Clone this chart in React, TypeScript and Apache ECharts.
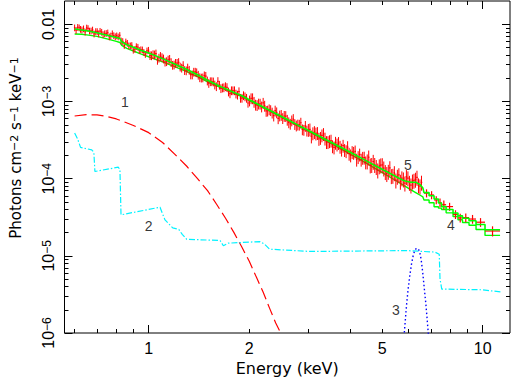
import React, { useEffect, useRef } from 'react';
import * as echarts from 'echarts';

// ---------- axis ticks / labels (keV, photons cm^-2 s^-1 keV^-1) ----------
const xTickMajor = [1, 10];
const xTickMinor = [0.6, 0.7, 0.8, 0.9, 2, 3, 4, 5, 6, 7, 8, 9];
const xTickLabels = [1, 2, 5, 10];
const yDecades = [1e-6, 1e-5, 1e-4, 1e-3, 1e-2];
const yMinorMult = [2, 3, 4, 5, 6, 7, 8, 9];
const xRange = [0.5595, 12.07];
const yRange = [1e-6, 0.0201];

// ---------- observed spectrum, dense bins (centre energy, flux) ----------
const dataEnergyA = [
  0.600, 0.613, 0.625, 0.638, 0.652, 0.665, 0.679, 0.694, 0.708, 0.723,
  0.738, 0.754, 0.770, 0.786, 0.802, 0.819, 0.836, 0.854, 0.872, 0.890,
  0.909, 0.928, 0.947, 0.967, 0.988, 1.009, 1.030, 1.051, 1.073, 1.096,
  1.119, 1.143, 1.167, 1.191, 1.216, 1.242, 1.268, 1.295, 1.322, 1.350,
  1.378, 1.407, 1.437, 1.467, 1.498, 1.529, 1.561, 1.594, 1.628, 1.662,
  1.697, 1.733, 1.769, 1.806, 1.844, 1.883, 1.922, 1.963, 2.004, 2.046,
  2.089, 2.133, 2.178, 2.224, 2.270, 2.318, 2.367, 2.416, 2.467, 2.519,
  2.572, 2.626, 2.681, 2.738, 2.795, 2.854, 2.914, 2.975, 3.038, 3.101,
  3.167, 3.233, 3.301, 3.371, 3.441, 3.514, 3.588, 3.663, 3.740, 3.819,
  3.899, 3.981, 4.065, 4.150, 4.237, 4.326, 4.417, 4.510, 4.605, 4.701,
  4.800, 4.901, 5.004, 5.109, 5.216, 5.326, 5.438, 5.552, 5.669, 5.788,
  5.909, 6.034, 6.161, 6.290, 6.422, 6.557,
];
const dataFluxA = [
  9.05e-3, 9.19e-3, 8.66e-3, 8.79e-3, 9.01e-3, 8.23e-3, 8.49e-3, 8.10e-3, 7.57e-3, 7.94e-3,
  7.60e-3, 7.79e-3, 7.11e-3, 7.17e-3, 7.13e-3, 7.22e-3, 6.02e-3, 5.94e-3, 5.28e-3, 5.35e-3,
  4.76e-3, 5.08e-3, 4.71e-3, 4.35e-3, 4.55e-3, 3.97e-3, 4.08e-3, 4.17e-3, 3.68e-3, 3.73e-3,
  3.27e-3, 3.48e-3, 3.22e-3, 3.00e-3, 3.15e-3, 2.82e-3, 2.95e-3, 2.52e-3, 2.56e-3, 2.23e-3,
  2.42e-3, 2.21e-3, 2.03e-3, 2.17e-3, 1.86e-3, 1.82e-3, 1.81e-3, 1.57e-3, 1.64e-3, 1.51e-3,
  1.57e-3, 1.34e-3, 1.39e-3, 1.39e-3, 1.22e-3, 1.11e-3, 1.20e-3, 1.11e-3, 1.03e-3, 1.10e-3,
  9.08e-4, 9.39e-4, 8.61e-4, 8.80e-4, 7.61e-4, 7.72e-4, 6.57e-4, 7.23e-4, 6.58e-4, 6.09e-4,
  6.47e-4, 5.37e-4, 5.68e-4, 5.10e-4, 5.02e-4, 5.31e-4, 4.29e-4, 4.19e-4, 4.36e-4, 3.89e-4,
  3.86e-4, 3.29e-4, 3.65e-4, 3.32e-4, 2.99e-4, 3.12e-4, 2.55e-4, 2.78e-4, 2.60e-4, 2.68e-4,
  2.28e-4, 2.11e-4, 2.22e-4, 2.26e-4, 1.91e-4, 1.77e-4, 1.88e-4, 1.69e-4, 1.50e-4, 1.67e-4,
  1.43e-4, 1.46e-4, 1.51e-4, 1.23e-4, 1.24e-4, 1.09e-4, 1.19e-4, 1.07e-4, 9.21e-5, 9.87e-5,
  1.06e-4, 8.92e-5, 9.27e-5, 9.79e-5, 8.27e-5, 8.96e-5,
];
// interleaved channels
const dataEnergyB = [
  0.606, 0.619, 0.631, 0.645, 0.658, 0.672, 0.686, 0.701, 0.715, 0.730,
  0.746, 0.762, 0.778, 0.794, 0.810, 0.827, 0.845, 0.863, 0.881, 0.899,
  0.918, 0.937, 0.957, 0.977, 0.998, 1.019, 1.040, 1.062, 1.084, 1.107,
  1.131, 1.155, 1.179, 1.203, 1.229, 1.255, 1.281, 1.308, 1.336, 1.364,
  1.392, 1.422, 1.452, 1.482, 1.513, 1.545, 1.577, 1.611, 1.645, 1.679,
  1.715, 1.751, 1.787, 1.825, 1.863, 1.902, 1.942, 1.983, 2.025, 2.067,
  2.111, 2.155, 2.201, 2.247, 2.294, 2.342, 2.391, 2.441, 2.493, 2.545,
  2.599, 2.653, 2.709, 2.766, 2.824, 2.884, 2.944, 3.006, 3.069, 3.134,
  3.200, 3.267, 3.336, 3.406, 3.477, 3.551, 3.625, 3.701, 3.779, 3.859,
  3.940, 4.023, 4.107, 4.193, 4.281, 4.371, 4.463, 4.557, 4.653, 4.750,
  4.850, 4.952, 5.056, 5.162, 5.271, 5.382, 5.495, 5.610, 5.728, 5.848,
  5.971, 6.097, 6.225, 6.356, 6.489,
];
const dataFluxB = [
  8.39e-3, 9.05e-3, 8.51e-3, 7.99e-3, 8.87e-3, 8.24e-3, 7.54e-3, 8.10e-3, 8.17e-3, 7.40e-3,
  7.66e-3, 6.91e-3, 7.59e-3, 6.95e-3, 6.91e-3, 6.12e-3, 5.35e-3, 5.71e-3, 5.29e-3, 4.65e-3,
  5.17e-3, 4.61e-3, 4.69e-3, 4.10e-3, 4.64e-3, 3.95e-3, 4.05e-3, 3.45e-3, 3.87e-3, 3.59e-3,
  3.31e-3, 3.55e-3, 2.97e-3, 3.15e-3, 3.23e-3, 2.73e-3, 2.54e-3, 2.74e-3, 2.23e-3, 2.42e-3,
  2.38e-3, 2.05e-3, 2.04e-3, 2.14e-3, 1.73e-3, 1.82e-3, 1.65e-3, 1.83e-3, 1.48e-3, 1.52e-3,
  1.53e-3, 1.27e-3, 1.39e-3, 1.26e-3, 1.35e-3, 1.11e-3, 1.16e-3, 9.57e-4, 1.10e-3, 9.89e-4,
  8.97e-4, 9.36e-4, 9.61e-4, 7.55e-4, 7.91e-4, 7.17e-4, 7.62e-4, 6.06e-4, 6.69e-4, 6.50e-4,
  5.79e-4, 5.14e-4, 5.92e-4, 4.88e-4, 5.00e-4, 4.35e-4, 4.82e-4, 4.30e-4, 3.54e-4, 4.03e-4,
  3.92e-4, 3.39e-4, 3.80e-4, 2.99e-4, 3.07e-4, 2.64e-4, 2.93e-4, 2.91e-4, 2.39e-4, 2.36e-4,
  2.57e-4, 2.01e-4, 2.17e-4, 1.77e-4, 2.06e-4, 1.87e-4, 1.63e-4, 1.90e-4, 1.52e-4, 1.52e-4,
  1.29e-4, 1.50e-4, 1.37e-4, 1.16e-4, 1.38e-4, 1.10e-4, 9.56e-5, 1.12e-4, 1.02e-4, 8.74e-5,
  1.02e-4, 8.24e-5, 9.49e-5, 1.04e-4, 8.02e-5,
];
// fractional error by energy band (upper band edge, fraction)
const errBandEdge = [1.0, 2.0, 3.0, 4.5, 7.0];
const errBandFrac = [0.10, 0.13, 0.16, 0.19, 0.22];

// ---------- observed spectrum, wide bins at high energy ----------
const binEdges = [6.67, 6.91, 7.15, 7.37, 7.53, 7.77, 8.15, 8.43, 8.70, 9.10, 9.55, 10.16, 11.27];
const binFlux = [6.5e-5, 6.15e-5, 5.3e-5, 4.9e-5, 4.6e-5, 4.35e-5, 3.45e-5, 3.1e-5, 3.13e-5, 3.0e-5, 2.73e-5, 2.1e-5];
const binErrFrac = [0.12, 0.12, 0.12, 0.13, 0.13, 0.12, 0.13, 0.13, 0.13, 0.13, 0.13, 0.15];
const binTotal = [6.6e-5, 6.0e-5, 5.45e-5, 4.85e-5, 4.35e-5, 3.98e-5, 3.6e-5, 3.3e-5, 3.07e-5, 2.85e-5, 2.55e-5, 2.18e-5];
const binPowerLaw = [5.3e-5, 4.87e-5, 4.33e-5, 4.15e-5, 3.98e-5, 3.61e-5, 3.24e-5, 2.94e-5, 2.71e-5, 2.49e-5, 2.2e-5, 1.84e-5];

// ---------- model, fine grid ----------
const modelEnergy = [
  0.60, 0.63, 0.66, 0.70, 0.75, 0.80, 0.82, 0.83, 0.86, 0.90,
  0.95, 1.00, 1.10, 1.20, 1.30, 1.40, 1.50, 1.65, 1.80, 1.90,
  2.00, 2.20, 2.40, 2.60, 2.80, 3.00, 3.30, 3.60, 4.00, 4.40,
  4.80, 5.20, 5.60, 5.80, 5.90, 6.10, 6.30, 6.50, 6.62,
];
const modelTotal = [
  8.7e-3, 8.45e-3, 8.2e-3, 7.8e-3, 7.25e-3, 6.75e-3, 6.55e-3, 5.95e-3, 5.45e-3, 5.05e-3,
  4.6e-3, 4.25e-3, 3.6e-3, 3.05e-3, 2.6e-3, 2.22e-3, 1.89e-3, 1.55e-3, 1.315e-3, 1.19e-3,
  1.054e-3, 8.51e-4, 7.0e-4, 5.84e-4, 4.95e-4, 4.25e-4, 3.42e-4, 2.81e-4, 2.22e-4, 1.78e-4,
  1.45e-4, 1.21e-4, 1.02e-4, 9.45e-5, 9.25e-5, 9.0e-5, 8.99e-5, 8.37e-5, 7.57e-5,
];
const modelPowerLaw = [
  7.5e-3, 7.45e-3, 7.25e-3, 7.0e-3, 6.48e-3, 6.02e-3, 5.83e-3, 5.35e-3, 4.89e-3, 4.52e-3,
  4.12e-3, 3.81e-3, 3.27e-3, 2.82e-3, 2.44e-3, 2.10e-3, 1.80e-3, 1.50e-3, 1.28e-3, 1.162e-3,
  1.03e-3, 8.33e-4, 6.87e-4, 5.72e-4, 4.83e-4, 4.14e-4, 3.31e-4, 2.70e-4, 2.10e-4, 1.66e-4,
  1.33e-4, 1.09e-4, 9.0e-5, 8.2e-5, 7.85e-5, 7.15e-5, 6.6e-5, 6.1e-5, 5.8e-5,
];

// component 1 (soft thermal)
const bbEnergy = [0.60, 0.65, 0.70, 0.75, 0.80, 0.90, 1.00, 1.10, 1.20, 1.30, 1.40, 1.50, 1.60, 1.70, 1.80, 1.90, 2.00, 2.10, 2.20, 2.30, 2.40, 2.47];
const bbFlux = [6.5e-4, 6.75e-4, 6.7e-4, 6.4e-4, 5.95e-4, 4.9e-4, 3.95e-4, 2.95e-4, 2.05e-4, 1.45e-4, 1.0e-4, 7.0e-5, 4.6e-5, 3.05e-5, 2.0e-5, 1.3e-5, 8.5e-6, 5.3e-6, 3.4e-6, 2.1e-6, 1.35e-6, 1.05e-6];

// component 2 (edge-structured)
const cyanEnergy = [0.600, 0.612, 0.625, 0.675, 0.685, 0.690, 0.811, 0.820, 0.826, 1.081, 1.100, 1.119, 1.180, 1.230, 1.260, 1.299, 1.635, 1.673, 1.730, 2.150, 2.220, 2.300, 3.040, 5.920, 7.190, 7.410, 7.450, 7.540, 10.00, 11.40];
const cyanFlux = [3.9e-4, 3.3e-4, 2.55e-4, 2.36e-4, 2.2e-4, 1.24e-4, 1.41e-4, 1.3e-4, 3.4e-5, 4.27e-5, 3.5e-5, 2.92e-5, 2.3e-5, 2.2e-5, 1.9e-5, 1.64e-5, 1.58e-5, 1.35e-5, 1.46e-5, 1.53e-5, 1.42e-5, 1.22e-5, 1.14e-5, 1.17e-5, 1.12e-5, 1.05e-5, 5.0e-6, 3.71e-6, 3.63e-6, 3.39e-6];

// component 3 (Fe line)
const gaussEnergy = [5.80, 5.86, 5.92, 5.98, 6.05, 6.12, 6.19, 6.26, 6.33, 6.40, 6.47, 6.54, 6.61, 6.68, 6.75, 6.81, 6.87, 6.93];
const gaussFlux = [8e-7, 1.4e-6, 2.4e-6, 3.7e-6, 5.6e-6, 7.8e-6, 1.0e-5, 1.18e-5, 1.25e-5, 1.24e-5, 1.15e-5, 9.0e-6, 6.2e-6, 3.9e-6, 2.5e-6, 1.6e-6, 1.0e-6, 6e-7];

// component number annotations
const annotText = ['1', '2', '3', '4', '5'];
const annotEnergy = [0.849, 1.0, 5.50, 8.03, 5.97];
const annotFlux = [9.86e-4, 2.47e-5, 1.99e-6, 2.49e-5, 1.50e-4];

// ---------------------------------------------------------------
const L = (v: number) => Math.log10(v);
const RED = '#ff0000';
const GREEN = '#00ff00';
const CYAN = '#00f2ff';
const BLUE = '#0000ff';
const NUM_FONT = 'Liberation Sans';
const TXT_FONT = 'DejaVu Sans';

function errFor(e: number) {
  for (let i = 0; i < errBandEdge.length; i++) if (e <= errBandEdge[i]) return errBandFrac[i];
  return errBandFrac[errBandFrac.length - 1];
}

function buildDataItems() {
  const chans = dataEnergyA.map((e, i) => [e, dataFluxA[i]])
    .concat(dataEnergyB.map((e, i) => [e, dataFluxB[i]]))
    .sort((p, q) => p[0] - q[0]);
  const le = chans.map((c) => L(c[0]));
  const n = le.length;
  const items: number[][] = [];
  for (let i = 0; i < n; i++) {
    const lo = i > 0 ? (le[i - 1] + le[i]) / 2 : le[i] - (le[1] - le[0]) / 2;
    const hi = i < n - 1 ? (le[i] + le[i + 1]) / 2 : le[i] + (le[i] - le[i - 1]) / 2;
    const v = chans[i][1];
    const f = errFor(chans[i][0]);
    items.push([lo, hi, le[i], L(v), L(v * (1 - f)), L(v * (1 + f)), 1]);
  }
  for (let i = 0; i < binFlux.length; i++) {
    const lo = L(binEdges[i]);
    const hi = L(binEdges[i + 1]);
    const v = binFlux[i];
    const f = binErrFrac[i];
    items.push([lo, hi, (lo + hi) / 2, L(v), L(v * (1 - f)), L(v * (1 + f)), 1.2]);
  }
  return items;
}

function buildModel(vals: number[], stepVals: number[]) {
  const pts: number[][] = modelEnergy.map((e, i) => [L(e), L(vals[i])]);
  for (let i = 0; i < stepVals.length; i++) {
    pts.push([L(binEdges[i]), L(stepVals[i])]);
    pts.push([L(binEdges[i + 1]), L(stepVals[i])]);
  }
  return pts;
}

const pairs = (xs: number[], ys: number[]) => xs.map((x, i) => [L(x), L(ys[i])]);

const yMajorLog = yDecades.map((d) => Math.round(L(d)));
const yMinorLog: number[] = [];
yDecades.slice(0, 4).forEach((d) => yMinorMult.forEach((m) => yMinorLog.push(L(m * d))));

function makeX(position: 'top' | 'bottom', main: boolean) {
  const withLabels = position === 'bottom' && main;
  return {
    type: 'value',
    position,
    min: L(xRange[0]),
    max: L(xRange[1]),
    splitLine: { show: false },
    axisLine: { show: false, onZero: false },
    axisTick: {
      show: true,
      inside: true,
      length: main ? 8 : 4,
      customValues: (main ? xTickMajor : xTickMinor).map(L),
      lineStyle: { color: '#000', width: 1 },
    },
    axisLabel: withLabels
      ? {
          show: true,
          margin: 7,
          customValues: xTickLabels.map(L),
          formatter: (v: number) => String(Math.round(Math.pow(10, v))),
          color: '#000',
          fontFamily: NUM_FONT,
          fontSize: 16,
        }
      : { show: false },
    name: withLabels ? 'Energy (keV)' : '',
    nameLocation: 'middle',
    nameGap: 26,
    nameTextStyle: { color: '#000', fontFamily: TXT_FONT, fontSize: 16 },
  };
}

function makeY(position: 'left' | 'right', main: boolean) {
  const withLabels = position === 'left' && main;
  return {
    type: 'value',
    position,
    min: L(yRange[0]),
    max: L(yRange[1]),
    splitLine: { show: false },
    axisLine: { show: false, onZero: false },
    axisTick: {
      show: true,
      inside: true,
      length: main ? 8 : 4,
      customValues: main ? yMajorLog : yMinorLog,
      lineStyle: { color: '#000', width: 1 },
    },
    axisLabel: withLabels
      ? {
          show: true,
          rotate: 90,
          margin: 8,
          customValues: yMajorLog,
          formatter: (v: number) => {
            const ex = Math.round(v);
            if (ex === -2) return '{b|0.01}';
            return '{b|10}{s|\u2212' + String(-ex) + '}';
          },
          rich: {
            b: { fontFamily: NUM_FONT, fontSize: 16, color: '#000', lineHeight: 16, padding: [6, 0, 0, 0], verticalAlign: 'bottom' },
            s: { fontFamily: NUM_FONT, fontSize: 12, color: '#000', lineHeight: 12, verticalAlign: 'top' },
          },
        }
      : { show: false },
  };
}

export default function App() {
  const ref = useRef<HTMLDivElement>(null);
  useEffect(() => {
    document.body.style.margin = '0';
    document.body.style.overflow = 'hidden';
    if (!ref.current) return;
    const chart = echarts.init(ref.current, undefined, { renderer: 'svg' });
    const dataItems = buildDataItems();
    const option: any = {
      animation: false,
      backgroundColor: '#ffffff',
      grid: {
        left: 64.5, right: 3, top: 1, bottom: 49, containLabel: false, outerBoundsMode: 'none',
        show: true, borderColor: '#000', borderWidth: 1, backgroundColor: 'transparent',
      },
      xAxis: [makeX('bottom', true), makeX('bottom', false), makeX('top', true), makeX('top', false)],
      yAxis: [makeY('left', true), makeY('left', false), makeY('right', true), makeY('right', false)],
      graphic: [
        {
          type: 'text',
          x: 16,
          y: 148,
          rotation: Math.PI / 2,
          silent: true,
          style: {
            text: '{n|Photons cm}{s|\u22122}{n| s}{s|\u22121}{n| keV}{s|\u22121}',
            align: 'center',
            verticalAlign: 'middle',
            fill: '#000',
            rich: {
              n: { fontFamily: TXT_FONT, fontSize: 15, fill: '#000', lineHeight: 15, padding: [6, 0, 0, 0], verticalAlign: 'bottom' },
              s: { fontFamily: TXT_FONT, fontSize: 11, fill: '#000', lineHeight: 11, verticalAlign: 'top' },
            },
          },
        },
      ],
      series: [
        {
          type: 'line', name: 'comp4', xAxisIndex: 0, yAxisIndex: 0, z: 1, silent: true,
          showSymbol: false, symbol: 'none',
          data: buildModel(modelPowerLaw, binPowerLaw),
          lineStyle: { color: GREEN, width: 1.4 },
        },
        {
          type: 'custom',
          name: 'data',
          coordinateSystem: 'cartesian2d',
          xAxisIndex: 0,
          yAxisIndex: 0,
          silent: true,
          z: 2,
          encode: { x: [0, 1, 2], y: [3, 4, 5] },
          data: dataItems,
          renderItem: (params: any, api: any) => {
            const a = api.coord([api.value(0), api.value(3)]);
            const b = api.coord([api.value(1), api.value(3)]);
            const c1 = api.coord([api.value(2), api.value(4)]);
            const c2 = api.coord([api.value(2), api.value(5)]);
            return {
              type: 'group',
              children: [
                { type: 'line', shape: { x1: a[0], y1: a[1], x2: b[0], y2: b[1] }, style: { stroke: RED, lineWidth: 1.2, fill: null } },
                { type: 'line', shape: { x1: c1[0], y1: c1[1], x2: c2[0], y2: c2[1] }, style: { stroke: RED, lineWidth: api.value(6), fill: null } },
              ],
            };
          },
        },
        {
          type: 'line', name: 'model', xAxisIndex: 0, yAxisIndex: 0, z: 4, silent: true,
          showSymbol: false, symbol: 'none', smooth: false,
          data: buildModel(modelTotal, binTotal),
          lineStyle: { color: GREEN, width: 1.6 },
        },
        {
          type: 'line', name: 'comp1', xAxisIndex: 0, yAxisIndex: 0, z: 3, silent: true,
          showSymbol: false, symbol: 'none',
          data: pairs(bbEnergy, bbFlux),
          lineStyle: { color: RED, width: 1.2, type: [12, 5] },
        },
        {
          type: 'line', name: 'comp2', xAxisIndex: 0, yAxisIndex: 0, z: 3, silent: true,
          showSymbol: false, symbol: 'none',
          data: pairs(cyanEnergy, cyanFlux),
          lineStyle: { color: CYAN, width: 1.2, type: [6, 2, 1.5, 2] },
        },
        {
          type: 'line', name: 'comp3', xAxisIndex: 0, yAxisIndex: 0, z: 3, silent: true,
          showSymbol: false, symbol: 'none',
          data: pairs(gaussEnergy, gaussFlux),
          lineStyle: { color: BLUE, width: 1.4, type: [1.5, 2.5] },
        },
        {
          type: 'scatter', name: 'labels', xAxisIndex: 0, yAxisIndex: 0, z: 6, silent: true,
          symbol: 'circle', symbolSize: 1,
          itemStyle: { color: 'rgba(0,0,0,0)' },
          data: annotText.map((t, i) => [L(annotEnergy[i]), L(annotFlux[i]), t]),
          label: {
            show: true,
            position: [0.5, 0.5],
            align: 'center',
            verticalAlign: 'middle',
            formatter: (p: any) => p.value[2],
            color: '#000000',
            textBorderWidth: 0,
            fontFamily: NUM_FONT,
            fontSize: 14,
          },
        },
      ],
    };
    chart.setOption(option);
    return () => chart.dispose();
  }, []);
  return <div ref={ref} style={{ position: 'fixed', left: 0, top: 0, width: 513, height: 382 }} />;
}
